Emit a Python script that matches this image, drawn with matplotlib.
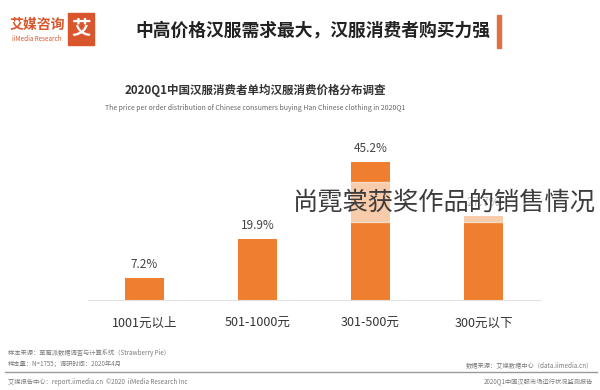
import matplotlib.pyplot as plt
from matplotlib.patches import Rectangle

plt.rcParams['font.family'] = ['Noto Sans CJK SC', 'DejaVu Sans']

# 数据
categories = ['1001元以上', '501-1000元', '301-500元', '300元以下']
values = [7.2, 19.9, 45.2, 27.7]
value_labels = ['7.2%', '19.9%', '45.2%', '27.7%']

title = '中高价格汉服需求最大，汉服消费者购买力强'
subtitle = '2020Q1中国汉服消费者单均汉服消费价格分布调查'
subtitle_en = 'The price per order distribution of Chinese consumers buying Han Chinese clothing in 2020Q1'
overlay = '尚霓裳获奖作品的销售情况'

W, H = 600, 390
bar_color = '#EF7F2E'
brand = '#D9552C'

fig = plt.figure(figsize=(6, 3.9), dpi=100)
fig.patch.set_facecolor('white')


def px(x, y):
    # 像素坐标 -> 图坐标
    return x / W, 1 - y / H


# 柱状图区域
left, right, base, top = 88, 540, 300, 147.5
ax = fig.add_axes([left / W, 1 - base / H, (right - left) / W, (base - top) / H])
x = range(len(categories))
ax.bar(x, values, width=0.345, color=bar_color, zorder=2)
ax.set_xlim(-0.5, 3.5)
ax.set_ylim(0, 50)
for i, v in enumerate(values):
    ax.annotate(value_labels[i], (i, v), xytext=(0, 5), textcoords='offset points',
                ha='center', va='bottom', fontsize=8.5, color='#444444')
ax.set_xticks(list(x))
ax.set_xticklabels(categories, fontsize=9, color='#333333')
ax.tick_params(axis='x', length=0, pad=12)
ax.set_yticks([])
for s in ['top', 'left', 'right']:
    ax.spines[s].set_visible(False)
ax.spines['bottom'].set_color('#e2e2e2')
ax.patch.set_alpha(0)

# 头部
fig.text(*px(490, 30), title, ha='right', va='center', fontsize=12.8,
         fontweight='bold', color='#222222')
fig.patches.append(Rectangle(px(497, 48), 4 / W, 33 / H, transform=fig.transFigure,
                             color='#E07040', zorder=3))
fig.patches.append(Rectangle(px(68, 45), 26 / W, 32 / H, transform=fig.transFigure,
                             color=brand, zorder=3))
fig.text(*px(81, 29), '艾', ha='center', va='center', fontsize=14,
         fontweight='bold', color='white', zorder=4)
fig.text(*px(37, 25), '艾媒咨询', ha='center', va='center', fontsize=10,
         fontweight='bold', color=brand)
fig.text(*px(37, 39), 'iiMedia Research', ha='center', va='center', fontsize=4.5,
         color=brand)

fig.text(*px(255, 90), subtitle, ha='center', va='center', fontsize=8.3,
         fontweight='bold', color='#333333')
fig.text(*px(255, 108), subtitle_en, ha='center', va='center', fontsize=5,
         color='#666666')

# 页脚
foot = '#7a7a7a'
fig.text(*px(8, 353), '样本来源：草莓派数据调查与计算系统（Strawberry Pie）', ha='left',
         va='center', fontsize=4.5, color=foot)
fig.text(*px(8, 364), '样本量：N=1755；调研时间：2020年4月', ha='left', va='center',
         fontsize=4.5, color=foot)
fig.text(*px(593, 365), '数据来源：艾媒数据中心（data.iimedia.cn）', ha='right',
         va='center', fontsize=4.5, color=foot)
fig.lines.append(plt.Line2D([5 / W, 597 / W], [1 - 372 / H] * 2, transform=fig.transFigure,
                            color='#9a9a9a', lw=1))
fig.text(*px(8, 382), '艾媒报告中心：report.iimedia.cn  ©2020  iiMedia Research Inc',
         ha='left', va='center', fontsize=4.5, color=foot)
fig.text(*px(593, 382), '2020Q1中国汉服市场运行状况监测报告', ha='right', va='center',
         fontsize=4.5, color=foot)

# 覆盖文字（原图上压着的水印标题）
fig.patches.append(Rectangle(px(293, 222), 307 / W, 40 / H, transform=fig.transFigure,
                             color='white', alpha=0.6, zorder=5))
fig.text(*px(293, 203), overlay, ha='left', va='center', fontsize=18.2,
         fontweight=200, color='#3c3c3c', zorder=6)

fig.savefig('out.png', dpi=100)
